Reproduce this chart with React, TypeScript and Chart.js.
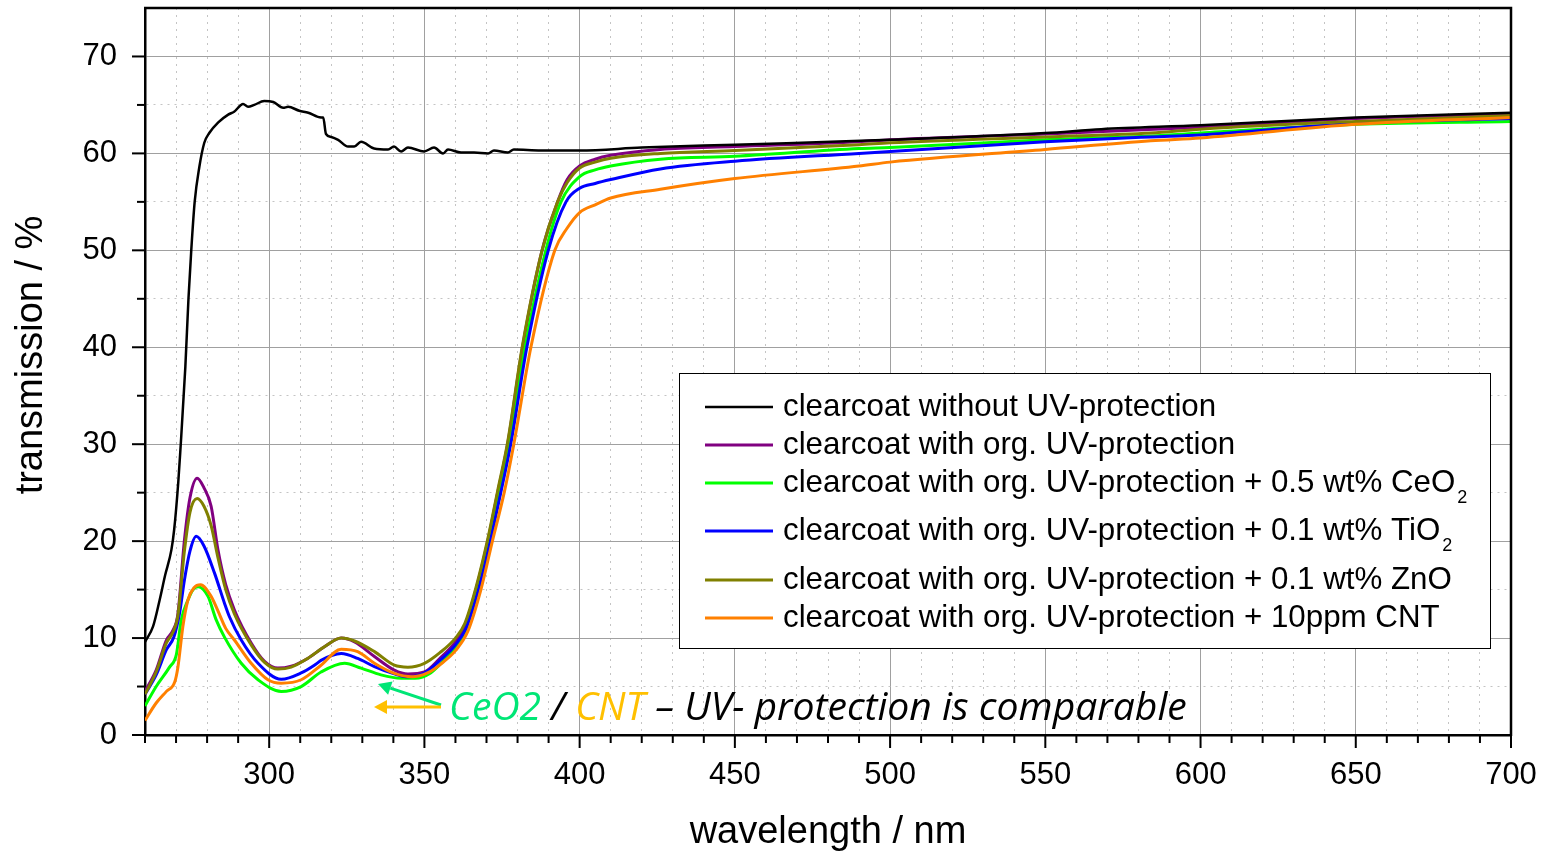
import React, { useEffect, useRef } from 'react';
import { Chart, registerables } from 'chart.js';

Chart.register(...registerables);

// ---------- data ----------
const xTickLabels = ['300', '350', '400', '450', '500', '550', '600', '650', '700'];
const yTickLabels = ['0', '10', '20', '30', '40', '50', '60', '70'];

const legendMain = [
  'clearcoat without UV-protection',
  'clearcoat with org. UV-protection',
  'clearcoat with org. UV-protection + 0.5 wt% CeO',
  'clearcoat with org. UV-protection + 0.1 wt% TiO',
  'clearcoat with org. UV-protection + 0.1 wt% ZnO',
  'clearcoat with org. UV-protection + 10ppm CNT',
];
const legendSub = ['', '', '2', '2', '', ''];
const seriesColors = ['#000000', '#800080', '#00ff00', '#0000ff', '#808000', '#ff8000'];

const blackNm = [260, 262.6, 264.7, 266.5, 268.5, 269.4, 270.7, 271.4, 273, 274, 274.9, 276, 277.5, 279.1, 280.7, 283.6, 286.8, 288.7, 291.6, 293.2, 295.2, 298.4, 301.3, 304.5, 306.1, 309.7, 312.6, 316.7, 317.4, 318.3, 320, 322.2, 325.4, 327.4, 329.6, 333.8, 338.3, 340.2, 342.5, 344.7, 349.9, 353.1, 356, 357.6, 361.8, 366, 370.5, 372.4, 376.9, 378.8, 387.5, 400, 420, 450, 500, 550, 568, 600, 650, 700];
const blackT = [9.6, 11.2, 13.9, 16.5, 19.1, 21.2, 26, 29.4, 38, 45, 50, 55, 58.6, 61.1, 62.1, 63.2, 64.0, 64.3, 65.1, 64.8, 65.0, 65.4, 65.3, 64.7, 64.8, 64.4, 64.2, 63.7, 63.7, 62.0, 61.7, 61.4, 60.7, 60.7, 61.2, 60.5, 60.4, 60.7, 60.2, 60.6, 60.2, 60.6, 60.0, 60.4, 60.1, 60.1, 60.0, 60.3, 60.1, 60.4, 60.3, 60.3, 60.6, 60.9, 61.4, 62.1, 62.5, 62.9, 63.7, 64.2];

const purpleNm = [260, 263.6, 266.9, 269, 270.6, 272.7, 274.5, 276.8, 279, 281.3, 283.5, 286, 288.8, 294.2, 298.5, 302.8, 307.1, 312.4, 317.8, 323.2, 327.5, 333.9, 340.3, 344.7, 350, 355, 360, 363, 366.6, 370.4, 373.6, 376.8, 381.6, 387.9, 392.9, 396, 400, 405, 410, 426, 450, 490, 500, 550, 600, 650, 700];
const purpleT = [4.5, 6.7, 9.8, 10.8, 12.5, 20.1, 24.5, 26.5, 25.5, 23.6, 19.1, 15.5, 12.9, 9.5, 7.6, 6.9, 7.1, 7.9, 9.1, 10.0, 9.6, 8.1, 6.7, 6.3, 6.5, 7.9, 9.6, 11.2, 15, 20, 25, 30, 40, 50, 55, 57.3, 58.7, 59.4, 59.8, 60.4, 60.7, 61.2, 61.4, 62.0, 62.7, 63.6, 64.1];

const greenNm = [260, 263.6, 267.9, 270.1, 271.7, 273.8, 275.5, 277.1, 280.3, 282.9, 285.6, 291, 296.4, 303.9, 310.3, 316.7, 324.3, 329.6, 336, 342.5, 347, 352, 356, 360, 363.3, 367.1, 370.9, 374.2, 377.4, 382.4, 389.1, 394, 400, 405, 410, 426, 450, 490, 500, 550, 584, 600, 650, 700];
const greenT = [3.0, 5.0, 7.0, 8.3, 11.9, 13.9, 15.0, 15.3, 14.3, 11.9, 10.1, 7.4, 5.7, 4.5, 5.0, 6.5, 7.4, 6.9, 6.2, 5.85, 5.85, 6.4, 7.6, 9.0, 10.8, 15, 20, 25, 30, 40, 50, 55, 57.6, 58.3, 58.7, 59.4, 59.7, 60.5, 60.6, 61.4, 61.8, 62.1, 63.0, 63.3];

const blueNm = [260, 263.6, 266.9, 269.3, 271.1, 272.7, 274.5, 276.5, 279, 282.4, 285.6, 287.2, 291, 296.4, 303.9, 310.3, 315, 316.7, 323.2, 328.5, 333.9, 340.3, 344.7, 350, 355, 360, 363.4, 367.4, 371.2, 374.6, 377.8, 383, 389.9, 395.6, 400, 405, 410, 426, 450, 490, 500, 550, 584, 600, 650, 700];
const blueT = [4.2, 6.2, 8.8, 10.1, 12.5, 16, 19, 20.5, 19.5, 16.7, 13.6, 12.2, 9.8, 7.4, 5.75, 6.4, 7.3, 7.7, 8.4, 7.9, 7.05, 6.3, 6.0, 6.4, 7.7, 9.3, 11.0, 15, 20, 25, 30, 40, 50, 55, 56.4, 56.9, 57.3, 58.4, 59.2, 60.0, 60.2, 61.2, 61.7, 61.9, 63.1, 63.6];

const oliveNm = [260, 263.6, 266.9, 269, 270.6, 272.7, 274.5, 276.8, 279, 281.3, 283.5, 286, 288.8, 294.2, 298.5, 302.8, 307.1, 312.4, 317.8, 323.2, 327.5, 333.9, 340.3, 344.7, 350, 355, 360, 363, 366.6, 370.4, 373.6, 376.8, 381.6, 387.9, 392.9, 396, 400, 405, 410, 426, 450, 490, 500, 550, 584, 600, 650, 700];
const oliveT = [4.2, 6.5, 9.5, 10.6, 12.3, 19.0, 23.0, 24.4, 23.6, 21.6, 18.3, 15.0, 12.5, 9.3, 7.5, 6.8, 7.0, 7.9, 9.1, 10.0, 9.7, 8.6, 7.2, 7.0, 7.4, 8.5, 10.0, 11.5, 15.2, 20.2, 25.2, 30.2, 40.2, 50, 55, 57, 58.5, 59.1, 59.5, 60.0, 60.3, 60.9, 61.1, 61.7, 62.1, 62.5, 63.3, 63.9];

const orangeNm = [260, 263.6, 266.9, 269.6, 270.6, 272.2, 273.8, 275.8, 277.9, 281.3, 283.5, 286, 288.8, 294.2, 299.6, 303.9, 310.3, 316.7, 323.2, 328.5, 333.9, 340.3, 346, 351, 356, 360, 364, 368.2, 371.9, 375.7, 378.8, 384.3, 392, 396, 400, 405, 410, 426, 450, 490, 500, 550, 584, 600, 650, 700];
const orangeT = [1.5, 3.3, 4.5, 5.5, 7.0, 11.2, 13.9, 15.2, 15.5, 14.3, 12.8, 11.0, 9.8, 7.4, 5.7, 5.35, 5.7, 7.2, 8.85, 8.6, 7.4, 6.35, 6.0, 6.4, 7.5, 8.7, 10.7, 15, 20, 25, 30, 40, 50, 52.3, 53.9, 54.7, 55.4, 56.3, 57.4, 58.7, 59.1, 60.4, 61.3, 61.6, 63.0, 63.7];

const annotationParts = [
  { text: 'CeO2', color: '#00e676' },
  { text: ' / ', color: '#000000' },
  { text: 'CNT', color: '#ffc000' },
  { text: ' \u2013 UV- protection is comparable', color: '#000000' },
];

const xTitle = 'wavelength / nm';
const yTitle = 'transmission / %';

const FONT = '"Liberation Sans", Arial, sans-serif';

const toPts = (xs: number[], ys: number[]) => xs.map((x, i) => ({ x, y: ys[i] }));

const overlayPlugin = {
  id: 'overlay',
  afterDraw(chart: any) {
    const ctx: CanvasRenderingContext2D = chart.ctx;
    const { left, right, top, bottom } = chart.chartArea;
    const xs = chart.scales.x;
    const ys = chart.scales.y;
    ctx.save();
    // frame top & right
    ctx.strokeStyle = '#000';
    ctx.lineWidth = 2.5;
    ctx.beginPath();
    ctx.moveTo(left - 1, top);
    ctx.lineTo(right, top);
    ctx.lineTo(right, bottom + 1);
    ctx.stroke();
    // tick marks
    ctx.lineWidth = 2;
    xs.ticks.forEach((t: any) => {
      const px = xs.getPixelForValue(t.value);
      const major = t.value % 50 === 0;
      ctx.beginPath();
      ctx.moveTo(px, bottom);
      ctx.lineTo(px, bottom + (major ? 13 : 8));
      ctx.stroke();
    });
    ys.ticks.forEach((t: any) => {
      const py = ys.getPixelForValue(t.value);
      if (t.value > 72) return;
      const major = t.value % 10 === 0;
      ctx.beginPath();
      ctx.moveTo(left, py);
      ctx.lineTo(left - (major ? 13 : 8), py);
      ctx.stroke();
    });
    // axis titles
    ctx.fillStyle = '#000';
    ctx.font = `38px ${FONT}`;
    ctx.textAlign = 'center';
    ctx.textBaseline = 'middle';
    ctx.fillText(xTitle, (left + right) / 2, 833);
    ctx.save();
    ctx.translate(32, 355);
    ctx.rotate(-Math.PI / 2);
    ctx.fillText(yTitle, 0, 0);
    ctx.restore();

    // legend
    const bx = 679.5, by = 373.5, bw = 811, bh = 275;
    ctx.fillStyle = '#fff';
    ctx.fillRect(bx, by, bw, bh);
    ctx.strokeStyle = '#000';
    ctx.lineWidth = 1;
    ctx.strokeRect(bx, by, bw, bh);
    const rowY = [407, 445, 483, 531, 580, 618];
    legendMain.forEach((name, i) => {
      const y = rowY[i];
      ctx.strokeStyle = seriesColors[i];
      ctx.lineWidth = i === 0 ? 2.5 : 3;
      ctx.beginPath();
      ctx.moveTo(705, y);
      ctx.lineTo(773, y);
      ctx.stroke();
      ctx.fillStyle = '#000';
      ctx.font = `31.3px ${FONT}`;
      ctx.textAlign = 'left';
      ctx.textBaseline = 'middle';
      ctx.fillText(name, 783, y);
      if (legendSub[i]) {
        const w = ctx.measureText(name).width;
        ctx.font = `18px ${FONT}`;
        ctx.fillText(legendSub[i], 783 + w + 2, y + 15);
      }
    });

    // annotation arrows
    ctx.lineWidth = 3;
    const arrow = (x1: number, y1: number, x2: number, y2: number, color: string) => {
      const ang = Math.atan2(y2 - y1, x2 - x1);
      const hl = 13, hw = 7;
      const bxp = x2 - hl * Math.cos(ang), byp = y2 - hl * Math.sin(ang);
      ctx.strokeStyle = color;
      ctx.fillStyle = color;
      ctx.beginPath();
      ctx.moveTo(x1, y1);
      ctx.lineTo(bxp, byp);
      ctx.stroke();
      ctx.beginPath();
      ctx.moveTo(x2, y2);
      ctx.lineTo(bxp + hw * Math.sin(ang), byp - hw * Math.cos(ang));
      ctx.lineTo(bxp - hw * Math.sin(ang), byp + hw * Math.cos(ang));
      ctx.closePath();
      ctx.fill();
    };
    arrow(441, 705, 378, 684, '#00e676');
    arrow(441, 707, 374, 707, '#ffc000');

    // annotation text
    const full = annotationParts.map((p) => p.text).join('');
    ctx.font = `italic 34px "Open Sans", sans-serif`;
    const wFull = ctx.measureText(full).width;
    const size = (34 * 738) / wFull;
    ctx.font = `italic ${size.toFixed(2)}px "Open Sans", sans-serif`;
    ctx.textAlign = 'left';
    ctx.textBaseline = 'alphabetic';
    let cx = 449;
    annotationParts.forEach((p) => {
      ctx.fillStyle = p.color;
      ctx.fillText(p.text, cx, 720);
      cx += ctx.measureText(p.text).width;
    });
    ctx.restore();
  },
};

export default function App() {
  const ref = useRef<HTMLCanvasElement | null>(null);
  useEffect(() => {
    document.body.style.margin = '0';
    const canvas = ref.current;
    if (!canvas) return;
    const series = [
      { nm: blackNm, t: blackT, w: 2.5 },
      { nm: purpleNm, t: purpleT, w: 3 },
      { nm: greenNm, t: greenT, w: 3 },
      { nm: blueNm, t: blueT, w: 3 },
      { nm: oliveNm, t: oliveT, w: 3 },
      { nm: orangeNm, t: orangeT, w: 3 },
    ];
    const datasets = series.map((s, i) => ({
      label: legendMain[i] + legendSub[i],
      data: toPts(s.nm, s.t),
      borderColor: seriesColors[i],
      backgroundColor: seriesColors[i],
      borderWidth: s.w,
      pointRadius: 0,
      fill: false,
      cubicInterpolationMode: 'monotone' as const,
      order: i === 0 ? 0 : 7 - i,
    }));
    const zeroPad = (s: any) => {
      s.paddingTop = 0;
      s.paddingBottom = 0;
      s.paddingLeft = 0;
      s.paddingRight = 0;
    };
    const chart = new Chart(canvas, {
      type: 'line',
      data: { datasets },
      plugins: [overlayPlugin],
      options: {
        animation: false,
        responsive: false,
        devicePixelRatio: 1,
        layout: { padding: { top: 8, right: 30, left: 0, bottom: 0 } },
        plugins: { legend: { display: false }, tooltip: { enabled: false } },
        scales: {
          x: {
            type: 'linear',
            min: 260,
            max: 700,
            afterFit: (s: any) => {
              s.height = 119;
              zeroPad(s);
            },
            ticks: {
              stepSize: 10,
              autoSkip: false,
              maxRotation: 0,
              padding: 22,
              color: '#000',
              font: { family: FONT, size: 31 },
              callback: (v: any) => {
                const lbl = String(v);
                return xTickLabels.includes(lbl) ? lbl : '';
              },
            },
            grid: {
              drawTicks: false,
              lineWidth: 1,
              color: (c: any) => (c.tick && c.tick.value % 50 === 0 ? '#a0a0a0' : '#c4c4c4'),
            },
            border: {
              color: '#000',
              width: 2.5,
              dash: (c: any) => (c.tick && c.tick.value % 50 !== 0 ? [2, 5] : []),
            },
          },
          y: {
            type: 'linear',
            min: 0,
            max: 75,
            afterFit: (s: any) => {
              s.width = 145;
              zeroPad(s);
            },
            ticks: {
              stepSize: 5,
              autoSkip: false,
              padding: 28,
              color: '#000',
              font: { family: FONT, size: 31 },
              callback: (v: any) => {
                const lbl = String(v);
                return yTickLabels.includes(lbl) ? lbl : '';
              },
            },
            grid: {
              drawTicks: false,
              lineWidth: 1,
              color: (c: any) => (c.tick && c.tick.value % 10 === 0 ? '#a0a0a0' : '#c4c4c4'),
            },
            border: {
              color: '#000',
              width: 2.5,
              dash: (c: any) => (c.tick && c.tick.value % 10 !== 0 ? [2, 5] : []),
            },
          },
        },
      },
    } as any);
    return () => chart.destroy();
  }, []);
  return (
    <div style={{ position: 'absolute', left: 0, top: 0, width: 1541, height: 854, background: '#fff' }}>
      <canvas ref={ref} width={1541} height={854} />
    </div>
  );
}
